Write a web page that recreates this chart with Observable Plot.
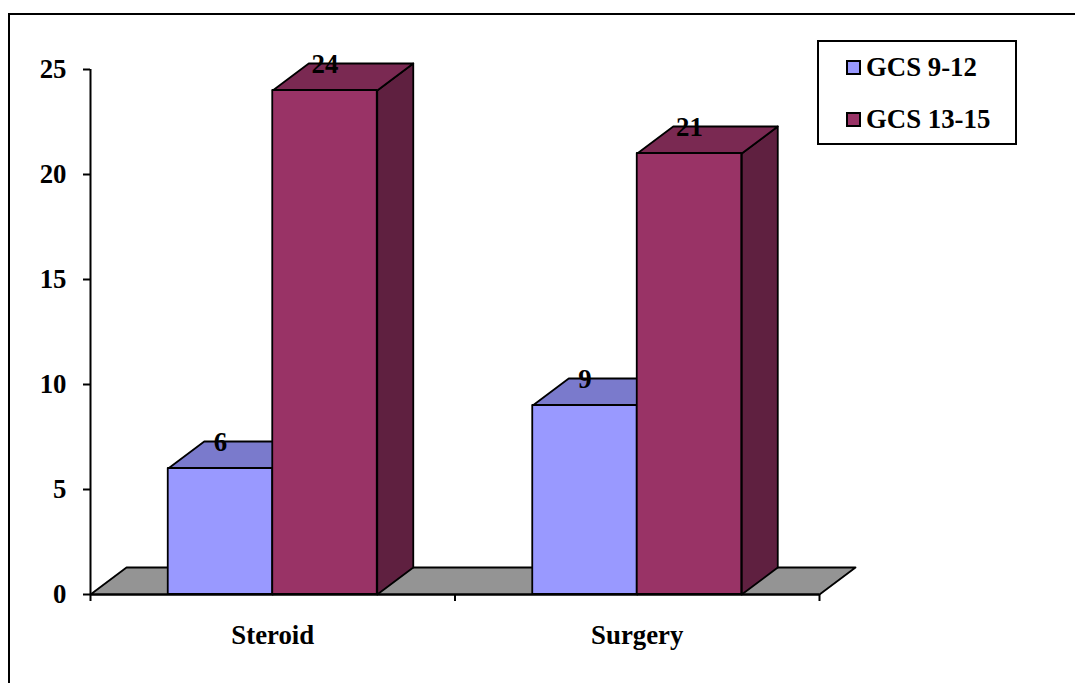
<!DOCTYPE html>
<html>
<head>
<meta charset="utf-8">
<script src="https://cdn.jsdelivr.net/npm/d3@7"></script>
<script src="https://cdn.jsdelivr.net/npm/@observablehq/plot@0.6"></script>
<style>
  html, body { margin: 0; padding: 0; background: #fff; }
  #page { position: relative; width: 1075px; height: 683px; overflow: hidden; font-family: "Liberation Serif", serif; }
  #frame { position: absolute; left: 8px; top: 13px; right: -4px; bottom: -4px; border-left: 2px solid #000; border-top: 2px solid #000; }
  #chart { position: absolute; left: 0; top: 0; }
  #legend { position: absolute; left: 817px; top: 40px; width: 196px; height: 101px; border: 2px solid #000; background: #fff; }
  .entry { position: absolute; left: 27px; display: flex; align-items: center; font-size: 26.8px; font-weight: bold; line-height: 30px; white-space: nowrap; }
  .swatch { box-sizing: border-box; width: 15px; height: 15px; border: 2px solid #000; margin-right: 5px; }
</style>
</head>
<body>
<div id="page">
  <div id="frame"></div>
  <div id="chart"></div>
  <div id="legend"></div>
</div>
<script>
// Patient counts per treatment, split by Glasgow Coma Scale band
const treatments = ["Steroid", "Surgery"];
const gcsLow = [6, 9];
const gcsHigh = [24, 21];
const seriesNames = ["GCS 9-12", "GCS 13-15"];
const yTicks = [0, 5, 10, 15, 20, 25];
const groupTicks = [0, 1, 2];

// Colours of each series: front, top and side faces of the bars
const frontColors = ["#9999ff", "#993366"];
const topColors = ["#7a7acc", "#7a2952"];
const sideColors = ["#5c5c99", "#5f2040"];
const floorColor = "#949494";

// Pseudo-3D extrusion and bar width, in data units
const depthX = 0.0988;
const depthY = 9 / 7;
const barWidth = 0.2867;

const outline = {stroke: "#000", strokeWidth: 1.8, strokeLinejoin: "round"};

// A filled, closed polygon drawn as a line through its corners
const face = (corners, fill) =>
  Plot.line([...corners, corners[0]], {x: "0", y: "1", fill, ...outline});

const bars = [gcsLow, gcsHigh].flatMap((values, s) =>
  values.map((value, g) => {
    const x1 = g + 0.5 + (s - 1) * barWidth;
    return {s, value, x1, x2: x1 + barWidth, name: seriesNames[s], treatment: treatments[g]};
  })
);

const barMarks = bars.flatMap(({s, value, x1, x2}) => [
  face([[x2, 0], [x2 + depthX, depthY], [x2 + depthX, value + depthY], [x2, value]], sideColors[s]),
  face([[x1, value], [x1 + depthX, value + depthY], [x2 + depthX, value + depthY], [x2, value]], topColors[s]),
  Plot.rect([{x1, x2, value}], {x1: "x1", x2: "x2", y1: 0, y2: "value", fill: frontColors[s], ...outline})
]);

const textStyle = {fontFamily: "Liberation Serif", fontWeight: "bold", fontSize: 26.8, fill: "#000"};

const chart = Plot.plot({
  width: 1075,
  height: 683,
  marginLeft: 90,
  marginRight: 256,
  marginTop: 69,
  marginBottom: 89,
  style: {background: "transparent", overflow: "visible"},
  x: {domain: [0, 2], label: null},
  y: {domain: [0, 25], label: null},
  marks: [
    // Chart floor
    face([[0, 0], [depthX, depthY], [2 + depthX, depthY], [2, 0]], floorColor),
    Plot.ruleX([0], {y1: 0, y2: 25, stroke: "#000", strokeWidth: 2}),
    Plot.axisY({
      ticks: yTicks, tickSize: 7, tickPadding: 17, label: null, strokeWidth: 2, stroke: "#000",
      ...textStyle
    }),
    Plot.axisX({ticks: groupTicks, tickFormat: () => "", tickSize: 7, label: null, strokeWidth: 2, stroke: "#000"}),
    ...barMarks,
    Plot.ruleY([0], {stroke: "#000", strokeWidth: 2}),
    // Value labels sit on the top face of each bar
    Plot.text(bars, {
      x: (d) => (d.x1 + d.x2) / 2, y: "value", text: (d) => String(d.value), dy: -26, ...textStyle
    }),
    // Treatment names under each group
    Plot.text(treatments, {
      x: (d, i) => i + 0.5, y: () => 0, text: (d) => d, dy: 41, ...textStyle
    })
  ]
});
document.getElementById("chart").append(chart);

// Legend box in the top right corner
const legend = d3.select("#legend");
seriesNames.forEach((name, i) => {
  const entry = legend.append("div").attr("class", "entry").style("top", `${10 + i * 52}px`);
  entry.append("div").attr("class", "swatch").style("background", frontColors[i]);
  entry.append("span").text(name);
});
</script>
</body>
</html>
